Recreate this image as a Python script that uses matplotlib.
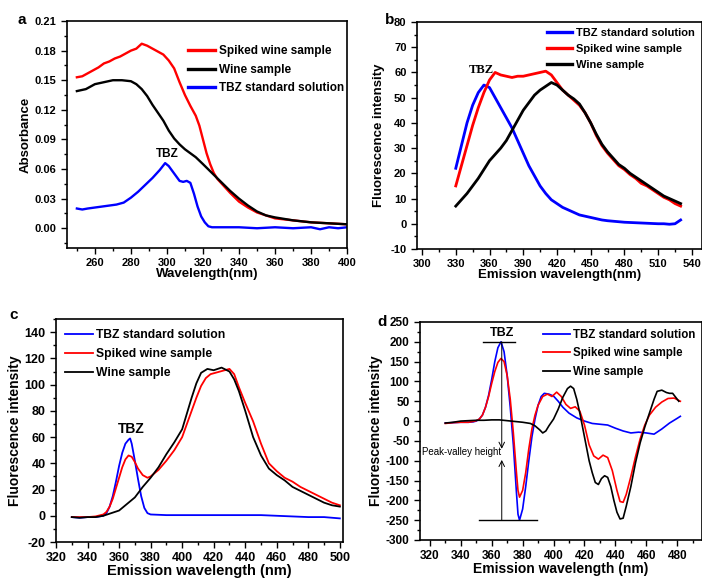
import matplotlib
matplotlib.use('Agg')
import matplotlib.pyplot as plt
from matplotlib.ticker import MultipleLocator

plt.rcParams['font.family'] = ['Liberation Sans', 'DejaVu Sans']
plt.rcParams['font.weight'] = 'bold'
plt.rcParams['axes.labelweight'] = 'bold'
plt.rcParams['axes.unicode_minus'] = False

# ---- panel a: absorbance ----
a_red_x = [250, 253, 256, 259, 262, 265, 268, 271, 274, 277, 280, 283, 286, 289, 292, 295, 298, 301, 304, 307,
           310, 313, 316, 318, 320, 322, 324, 326, 328, 330, 335, 340, 345, 350, 355, 360, 370, 380, 390, 400]
a_red_y = [0.153, 0.154, 0.157, 0.160, 0.163, 0.167, 0.169, 0.172, 0.174, 0.177, 0.180, 0.182, 0.187, 0.185,
           0.182, 0.179, 0.176, 0.170, 0.162, 0.148, 0.135, 0.124, 0.114, 0.104, 0.090, 0.076, 0.065, 0.056,
           0.050, 0.046, 0.036, 0.027, 0.021, 0.016, 0.013, 0.010, 0.008, 0.006, 0.005, 0.004]
a_blk_x = [250, 255, 260, 265, 270, 275, 280, 283, 286, 289, 292, 295, 298, 301, 304, 307, 310, 313, 316, 320,
           325, 330, 335, 340, 345, 350, 355, 360, 370, 380, 390, 400]
a_blk_y = [0.139, 0.141, 0.146, 0.148, 0.150, 0.150, 0.149, 0.146, 0.141, 0.134, 0.125, 0.117, 0.109, 0.099,
           0.091, 0.085, 0.080, 0.076, 0.072, 0.065, 0.056, 0.047, 0.038, 0.030, 0.023, 0.017, 0.013, 0.011,
           0.008, 0.006, 0.005, 0.004]
a_blu_x = [250, 253, 256, 260, 264, 268, 272, 276, 280, 284, 288, 292, 296, 299, 301, 303, 305, 307, 309, 311,
           313, 315, 317, 319, 321, 323, 325, 330, 340, 350, 360, 370, 380, 385, 390, 395, 400]
a_blu_y = [0.020, 0.019, 0.020, 0.021, 0.022, 0.023, 0.024, 0.026, 0.031, 0.037, 0.044, 0.051, 0.059, 0.066,
           0.063, 0.058, 0.053, 0.048, 0.047, 0.048, 0.046, 0.035, 0.022, 0.012, 0.006, 0.002, 0.001, 0.001,
           0.001, 0.000, 0.001, 0.000, 0.001, -0.001, 0.001, 0.000, 0.001]

# ---- panel b: fluorescence ----
b_x = [330, 335, 340, 345, 350, 355, 360, 365, 370, 375, 380, 385, 390, 395, 400, 405, 410, 415, 420, 425,
       430, 435, 440, 445, 450, 455, 460, 465, 470, 475, 480, 485, 490, 495, 500, 505, 510, 515, 520, 525, 530]
b_blu = [22, 31, 40, 47, 52, 55, 54, 50, 46, 42, 38, 33, 28, 23, 19, 15, 12, 9.5, 8, 6.5,
         5.5, 4.5, 3.5, 3, 2.5, 2, 1.5, 1.2, 1, 0.8, 0.6, 0.5, 0.4, 0.3, 0.2, 0.1, 0, 0, -0.2, 0, 1.5]
b_red = [15, 23, 31, 39, 46, 52, 57, 60, 59, 58.5, 58, 58.5, 58.5, 59, 59.5, 60, 60.5, 59, 56, 53,
         51, 49, 47, 44, 40, 35, 31, 28, 25.5, 23, 21.5, 19.5, 18, 16, 15, 13.5, 12, 10.5, 9.5, 8, 7]
b_blk = [7, 9.5, 12, 15, 18, 21.5, 25, 27.5, 30, 33, 37, 41, 45, 48, 51, 53, 54.5, 56, 55, 53,
         51, 49.5, 47.5, 44, 40, 35.5, 31.5, 28.5, 26, 23.5, 22, 20, 18.5, 17, 15.5, 14, 12.5, 11, 10, 9, 8]

# ---- panel c: synchronous fluorescence ----
c_blu_x = [330, 335, 340, 345, 350, 352, 354, 356, 358, 360, 362, 364, 366, 367, 368, 370, 372, 374, 376, 378,
           380, 390, 400, 410, 420, 430, 440, 450, 460, 470, 480, 490, 500]
c_blu_y = [-1, -1.5, -1, -1, 0, 2, 7, 15, 26, 38, 48, 55, 58, 59, 55, 42, 28, 15, 6, 2,
           1, 0.5, 0.5, 0.5, 0.5, 0.5, 0.5, 0.5, 0, -0.5, -1, -1, -2]
c_red_x = [330, 335, 340, 345, 350, 352, 354, 356, 358, 360, 362, 364, 366, 368, 370, 372, 375, 378, 380, 385,
           390, 395, 400, 403, 406, 409, 412, 415, 418, 421, 424, 427, 430, 433, 436, 440, 445, 450, 455, 460,
           465, 470, 475, 480, 485, 490, 495, 500]
c_red_y = [-1, -1, -1, -0.5, 1, 3, 7, 13, 21, 29, 37, 43, 46, 45, 41, 36, 31, 29, 30, 35,
           42, 50, 60, 70, 80, 90, 99, 105, 108, 109, 110, 111, 112, 108, 98, 86, 72, 55, 40, 34,
           29, 26, 22, 19, 16, 13, 10, 8]
c_blk_x = [330, 335, 340, 345, 350, 355, 360, 365, 370, 375, 380, 385, 390, 395, 400, 403, 406, 409, 412, 416,
           420, 425, 430, 433, 436, 440, 445, 450, 455, 460, 465, 470, 475, 480, 485, 490, 495, 500]
c_blk_y = [-1, -1.5, -1, -1, 0, 2, 4, 9, 14, 22, 29, 37, 47, 56, 66, 78, 90, 101, 109, 112,
           111, 113, 110, 104, 95, 80, 60, 46, 36, 31, 27, 22, 19, 16, 13, 10, 8, 7]

# ---- panel d: derivative spectra ----
d_blu_x = [330, 335, 340, 345, 348, 350, 352, 354, 356, 358, 360, 362, 364, 366, 368, 370, 372, 374, 376, 377,
           378, 380, 382, 384, 386, 388, 390, 392, 394, 397, 400, 403, 406, 410, 415, 420, 425, 430, 435, 440,
           445, 450, 455, 460, 465, 470, 475, 480, 482]
d_blu_y = [-5, -4, -3, -3, -2, 0, 5, 15, 35, 65, 105, 150, 185, 200, 175, 115, 35, -60, -180, -235,
           -250, -222, -165, -100, -40, 5, 40, 62, 70, 68, 63, 50, 35, 20, 8, 0, -6, -8, -10, -18,
           -25, -30, -28, -30, -33, -20, -5, 7, 12]
d_red_x = [330, 335, 340, 345, 348, 350, 352, 354, 356, 358, 360, 362, 364, 366, 368, 370, 372, 374, 376, 377,
           378, 380, 382, 384, 386, 388, 390, 393, 396, 399, 402, 405, 408, 411, 414, 417, 420, 423, 426, 429,
           432, 435, 438, 441, 443, 445, 447, 450, 453, 456, 459, 462, 466, 470, 474, 478, 482]
d_red_y = [-6, -4, -3, -3, -1, 1, 5, 15, 35, 62, 95, 125, 148, 158, 150, 115, 55, -30, -130, -175,
           -192, -175, -130, -70, -20, 15, 40, 62, 68, 62, 73, 62, 42, 32, 36, 25, -10, -60, -88, -96,
           -86, -92, -125, -175, -203, -205, -185, -140, -90, -45, -10, 15, 35, 48, 57, 58, 50]
d_blk_x = [330, 335, 340, 345, 350, 355, 360, 365, 370, 375, 380, 385, 388, 391, 393, 395, 397, 400, 403, 406,
           409, 411, 413, 415, 417, 419, 421, 423, 425, 427, 429, 431, 433, 435, 437, 439, 441, 443, 445, 447,
           450, 453, 456, 459, 462, 465, 467, 470, 473, 475, 477, 479, 481]
d_blk_y = [-5, -3, 0, 1, 2, 2, 3, 3, 1, -1, -3, -6, -12, -22, -30, -25, -12, 5, 30, 60,
           82, 88, 82, 55, 20, -20, -60, -100, -130, -155, -160, -145, -138, -142, -165, -200, -230, -247, -245, -215,
           -165, -105, -55, -15, 20, 55, 75, 78, 72, 70, 70, 60, 50]

RED = '#ff0000'
BLUE = '#0000ff'
BLACK = '#000000'

fig = plt.figure(figsize=(7.02, 5.79), dpi=100)


def style(ax, xmaj, ymaj, tsize):
    ax.xaxis.set_major_locator(MultipleLocator(xmaj))
    ax.xaxis.set_minor_locator(MultipleLocator(xmaj / 2))
    ax.yaxis.set_major_locator(MultipleLocator(ymaj))
    ax.yaxis.set_minor_locator(MultipleLocator(ymaj / 2))
    ax.tick_params(which='major', direction='out', length=4, width=1, labelsize=tsize,
                   top=False, right=False)
    ax.tick_params(which='minor', direction='out', length=2.5, width=1, top=False, right=False)
    for s in ax.spines.values():
        s.set_linewidth(1.2)


def add_legend(ax, x, y, size, lw):
    leg = ax.legend(loc='upper left', bbox_to_anchor=(x, y), bbox_transform=fig.transFigure,
                    frameon=False, fontsize=size, handlelength=2.3, handletextpad=0.3, borderpad=0,
                    borderaxespad=0, labelspacing=0.55)
    for line in leg.get_lines():
        line.set_linewidth(lw)


# a
ax = fig.add_axes([0.0954, 0.5717, 0.399, 0.392])
ax.plot(a_red_x, a_red_y, color=RED, lw=1.7, label='Spiked wine sample')
ax.plot(a_blk_x, a_blk_y, color=BLACK, lw=1.7, label='Wine sample')
ax.plot(a_blu_x, a_blu_y, color=BLUE, lw=1.7, label='TBZ standard solution')
ax.set_xlim(244.5, 400)
ax.set_ylim(-0.02, 0.21)
style(ax, 20, 0.03, 8)
ax.yaxis.set_major_formatter(plt.FormatStrFormatter('%.2f'))
ax.set_xlabel('Wavelength(nm)', fontsize=9.5, labelpad=0)
ax.set_ylabel('Absorbance', fontsize=9.5, labelpad=2)
ax.text(300, 0.069, 'TBZ', ha='center', va='bottom', fontsize=8.5)
add_legend(ax, 0.268, 0.922, 8.5, 2.4)
fig.text(0.025, 0.965, 'a', fontsize=11, ha='left', va='center')

# b
ax = fig.add_axes([0.594, 0.570, 0.406, 0.392])
ax.plot(b_x, b_blu, color=BLUE, lw=2.0, label='TBZ standard solution')
ax.plot(b_x, b_red, color=RED, lw=2.0, label='Spiked wine sample')
ax.plot(b_x, b_blk, color=BLACK, lw=2.0, label='Wine sample')
ax.set_xlim(295.5, 549)
ax.set_ylim(-10, 80)
style(ax, 30, 10, 8)
ax.set_xlabel('Emission wavelength(nm)', fontsize=9.5, labelpad=0)
ax.set_ylabel('Fluorescence intensity', fontsize=9.5, labelpad=4)
ax.text(353, 60.9, 'TBZ', ha='center', va='center', fontsize=9,
        family=['Liberation Serif', 'DejaVu Serif'])
add_legend(ax, 0.779, 0.952, 8, 2.4)
fig.text(0.548, 0.965, 'b', fontsize=11, ha='left', va='center')

# c
ax = fig.add_axes([0.0798, 0.0639, 0.4088, 0.385])
ax.plot(c_blu_x, c_blu_y, color=BLUE, lw=1.3, label='TBZ standard solution')
ax.plot(c_red_x, c_red_y, color=RED, lw=1.3, label='Spiked wine sample')
ax.plot(c_blk_x, c_blk_y, color=BLACK, lw=1.3, label='Wine sample')
ax.set_xlim(320, 502)
ax.set_ylim(-20, 150)
style(ax, 20, 20, 9)
ax.set_xlabel('Emission wavelength (nm)', fontsize=10.5, labelpad=0)
ax.set_ylabel('Fluorescence intensity', fontsize=10, labelpad=2)
ax.text(368, 66, 'TBZ', ha='center', va='center', fontsize=10)
add_legend(ax, 0.0926, 0.431, 8.7, 1.3)
fig.text(0.014, 0.456, 'c', fontsize=11, ha='left', va='center')

# d
ax = fig.add_axes([0.598, 0.0674, 0.402, 0.3765])
ax.plot(d_blu_x, d_blu_y, color=BLUE, lw=1.2, label='TBZ standard solution')
ax.plot(d_red_x, d_red_y, color=RED, lw=1.2, label='Spiked wine sample')
ax.plot(d_blk_x, d_blk_y, color=BLACK, lw=1.2, label='Wine sample')
ax.set_xlim(313.5, 496)
ax.set_ylim(-300, 250)
style(ax, 20, 50, 8.5)
ax.set_xlabel('Emission wavelength (nm)', fontsize=10, labelpad=0)
ax.set_ylabel('Fluorescence intensity', fontsize=10, labelpad=2)
ax.plot([354.2, 375.1], [200, 200], color=BLACK, lw=1)
ax.plot([352, 389.6], [-250, -250], color=BLACK, lw=1)
ax.annotate('', xy=(366.5, -70), xytext=(366.5, 200),
            arrowprops=dict(arrowstyle='->', lw=0.7, color=BLACK, shrinkA=0, shrinkB=0))
ax.annotate('', xy=(366.5, -98), xytext=(366.5, -250),
            arrowprops=dict(arrowstyle='->', lw=0.7, color=BLACK, shrinkA=0, shrinkB=0))
ax.text(315.2, -77, 'Peak-valley height', ha='left', va='center', fontsize=7, fontweight='normal')
ax.text(367, 221, 'TBZ', ha='center', va='center', fontsize=9)
add_legend(ax, 0.774, 0.432, 8.3, 1.3)
fig.text(0.538, 0.444, 'd', fontsize=11, ha='left', va='center')

fig.savefig('out.png', dpi=100)
